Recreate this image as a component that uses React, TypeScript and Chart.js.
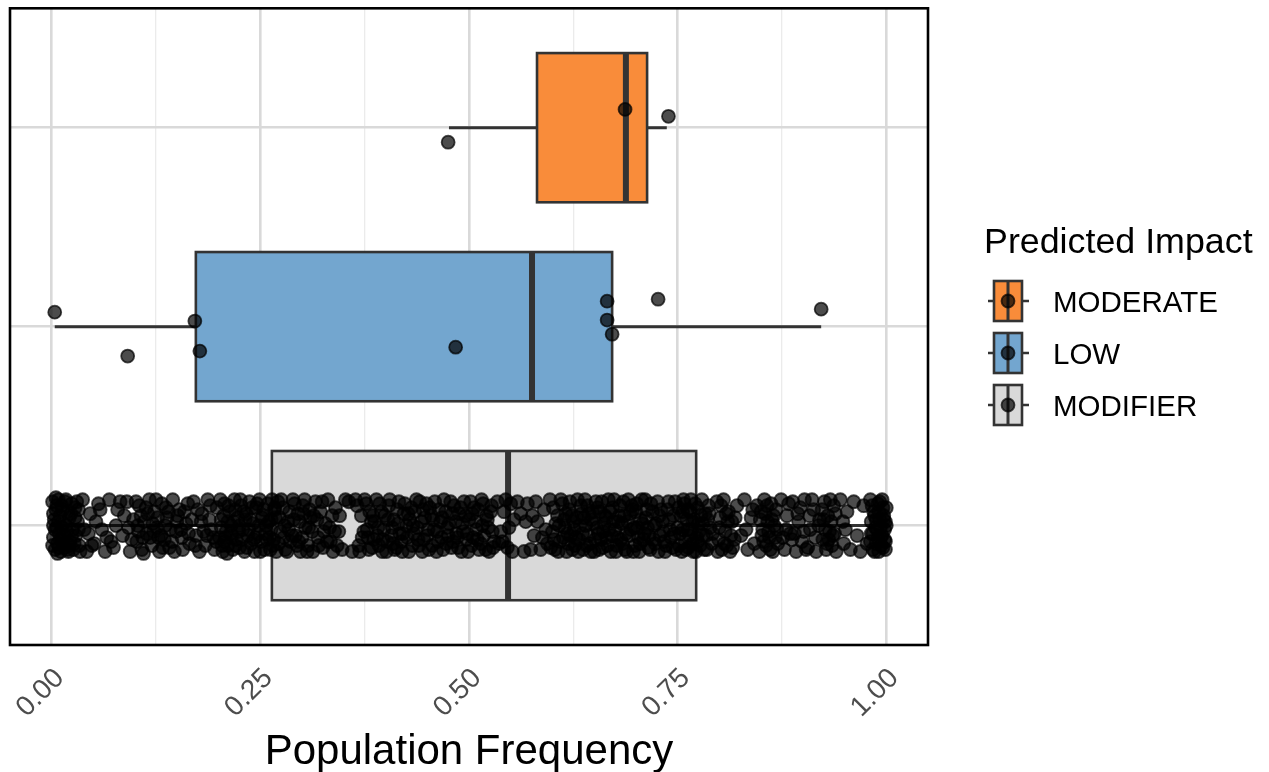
import React, { useEffect, useRef } from "react";
import { Chart, registerables } from "chart.js";

Chart.register(...registerables);

const FONT = "'Liberation Sans', Arial, Helvetica, sans-serif";

// Categories (top to bottom) and box fills
const categories = ["MODERATE", "LOW", "MODIFIER"];
const fillColors = ["#F98C3A", "#73A6CF", "#D9D9D9"];

// Box-plot statistics
const whiskerLow = [0.476, 0.0036, 0.0];
const q1 = [0.5815, 0.1727, 0.2638];
const medians = [0.688, 0.5755, 0.5468];
const q3 = [0.7134, 0.6715, 0.7722];
const whiskerHigh = [0.737, 0.922, 1.0];

// Axis ticks
const xGridTicks = [0, 0.125, 0.25, 0.375, 0.5, 0.625, 0.75, 0.875, 1];
const xMajorTicks = [0, 0.25, 0.5, 0.75, 1];

// Jittered points: [population frequency, vertical jitter]
const moderatePoints: [number, number][] = [
  [0.687, -0.092], [0.739, -0.057], [0.475, 0.073],
];

const lowPoints: [number, number][] = [
  [0.0036, -0.073], [0.091, 0.148], [0.1715, -0.028], [0.1775, 0.123], [0.484, 0.103],
  [0.6655, -0.128], [0.6655, -0.033], [0.6715, 0.038], [0.7266, -0.138], [0.922, -0.088],
];

const modifierPoints: [number, number][] = [
  [0.001, -0.12], [0.002, 0.06], [0.003, -0.03], [0.004, 0.12], [0.005, -0.08], [0.006, 0.01], [0.007, 0.09],
  [0.008, -0.13], [0.009, 0.04], [0.010, -0.05], [0.011, 0.13], [0.012, -0.10], [0.013, 0.07], [0.014, -0.01],
  [0.015, 0.11], [0.016, -0.12], [0.018, 0.03], [0.019, -0.07], [0.020, 0.13], [0.021, -0.04], [0.022, 0.08],
  [0.024, -0.11], [0.025, 0.02], [0.026, 0.12], [0.028, -0.09], [0.029, 0.05], [0.031, -0.02], [0.033, 0.10],
  [0.037, -0.13], [0.042, 0.13], [0.046, -0.06], [0.051, 0.09], [0.056, -0.11], [0.060, 0.02], [0.064, 0.13],
  [0.069, -0.13], [0.074, 0.11], [0.079, -0.08], [0.085, 0.05], [0.090, -0.12], [0.094, 0.13], [0.098, -0.03],
  [0.102, 0.08], [0.105, -0.10], [0.108, 0.12], [0.111, -0.02], [0.114, 0.04], [0.117, -0.13], [0.120, 0.10],
  [0.123, -0.07], [0.126, 0.01], [0.129, 0.13], [0.132, -0.11], [0.135, 0.07], [0.138, -0.04], [0.141, 0.11],
  [0.145, -0.13], [0.149, 0.03], [0.153, -0.08], [0.157, 0.12], [0.161, -0.01], [0.165, 0.09],
  [0.170, -0.12], [0.173, 0.05], [0.177, 0.13], [0.180, -0.06], [0.184, 0.10], [0.187, -0.13], [0.191, 0.02],
  [0.195, 0.12], [0.198, -0.09],
  [0.201, 0.06], [0.203, -0.03], [0.205, 0.13], [0.207, -0.11], [0.209, 0.03], [0.211, 0.10], [0.213, -0.07],
  [0.215, 0.00], [0.217, 0.12], [0.219, -0.13], [0.221, 0.07], [0.223, -0.04], [0.225, 0.11], [0.227, -0.10],
  [0.229, 0.02], [0.231, 0.13], [0.233, -0.06], [0.235, 0.05], [0.237, -0.12], [0.239, 0.09], [0.241, -0.01],
  [0.243, 0.13], [0.245, -0.09], [0.247, 0.04], [0.249, -0.13], [0.251, 0.08], [0.253, -0.05], [0.255, 0.12],
  [0.257, 0.00], [0.259, -0.11], [0.261, 0.06], [0.263, -0.03], [0.265, 0.10], [0.267, -0.08], [0.269, 0.13],
  [0.271, -0.12],
  [0.274, 0.03], [0.277, -0.09], [0.280, 0.12], [0.283, -0.02], [0.286, 0.08], [0.289, -0.13], [0.292, 0.05],
  [0.295, -0.06], [0.298, 0.13], [0.301, -0.10], [0.304, 0.01], [0.307, 0.10], [0.310, -0.04], [0.313, 0.13],
  [0.316, -0.12], [0.319, 0.06], [0.322, -0.07], [0.325, 0.11], [0.328, -0.01], [0.331, -0.13], [0.334, 0.08],
  [0.337, 0.13], [0.340, -0.09], [0.344, 0.03], [0.348, 0.12], [0.352, -0.13], [0.356, -0.12], [0.360, 0.13],
  [0.364, -0.13],
  [0.368, 0.10], [0.371, -0.05], [0.374, 0.03], [0.377, -0.11], [0.380, 0.12], [0.383, -0.02], [0.386, 0.07],
  [0.389, -0.13], [0.392, 0.10], [0.395, -0.07], [0.398, 0.02], [0.401, 0.13], [0.404, -0.10], [0.407, 0.05],
  [0.410, -0.03], [0.413, 0.11], [0.416, -0.12], [0.419, 0.08], [0.422, -0.06], [0.425, 0.00], [0.428, 0.13],
  [0.431, -0.09], [0.434, 0.04], [0.437, -0.13], [0.440, 0.10], [0.443, -0.02], [0.446, 0.07], [0.449, -0.11],
  [0.452, 0.12], [0.455, -0.05], [0.458, 0.02], [0.461, 0.13], [0.464, -0.08], [0.467, 0.06], [0.470, -0.13],
  [0.473, 0.09], [0.476, -0.01], [0.479, 0.11], [0.482, -0.10], [0.485, 0.04], [0.488, -0.06], [0.491, 0.13],
  [0.494, -0.12], [0.497, 0.07], [0.500, -0.03], [0.503, 0.10], [0.506, -0.09], [0.509, 0.02], [0.512, 0.12],
  [0.515, -0.13], [0.518, 0.05], [0.521, -0.05], [0.524, 0.13], [0.527, -0.10], [0.530, 0.08],
  [0.534, -0.12], [0.538, 0.03], [0.542, -0.07], [0.546, 0.11], [0.550, -0.11], [0.554, -0.03], [0.558, -0.12],
  [0.562, -0.06], [0.566, 0.13], [0.570, -0.11], [0.574, 0.12], [0.578, 0.05], [0.582, -0.02], [0.586, 0.12],
  [0.590, -0.08], [0.594, 0.09],
  [0.597, -0.13], [0.600, 0.03], [0.603, 0.12], [0.606, -0.05], [0.609, 0.08], [0.612, -0.11], [0.615, 0.01],
  [0.617, 0.13], [0.620, -0.08], [0.622, 0.05], [0.625, -0.02], [0.627, 0.10], [0.630, -0.13], [0.632, 0.07],
  [0.635, -0.06], [0.637, 0.12], [0.640, 0.00], [0.642, -0.10], [0.645, 0.09], [0.647, -0.03], [0.650, 0.13],
  [0.652, -0.12], [0.655, 0.04], [0.657, -0.07], [0.660, 0.11], [0.662, -0.01], [0.665, 0.06], [0.667, -0.13],
  [0.670, 0.13], [0.672, -0.09], [0.675, 0.02], [0.677, 0.10], [0.680, -0.05], [0.682, 0.07], [0.685, -0.12],
  [0.687, 0.12], [0.690, -0.02], [0.692, 0.05], [0.695, -0.10], [0.697, 0.13], [0.700, -0.07], [0.702, 0.01],
  [0.705, 0.09], [0.707, -0.13], [0.710, 0.04], [0.712, -0.04], [0.715, 0.11], [0.718, -0.11], [0.721, 0.07],
  [0.724, -0.01], [0.727, 0.13], [0.730, -0.08], [0.733, 0.03], [0.736, 0.10], [0.739, -0.12], [0.742, 0.06],
  [0.745, -0.05], [0.748, 0.12],
  [0.751, -0.09], [0.753, 0.04], [0.755, 0.13], [0.757, -0.13], [0.759, 0.08], [0.761, -0.03], [0.763, 0.11],
  [0.765, -0.07], [0.767, 0.02], [0.769, 0.13], [0.771, -0.11], [0.773, 0.06], [0.775, -0.01], [0.777, 0.10],
  [0.779, -0.13], [0.781, 0.05], [0.783, -0.06], [0.785, 0.12], [0.787, -0.10], [0.789, 0.01], [0.791, 0.09],
  [0.797, -0.12], [0.799, 0.07], [0.801, -0.04], [0.803, 0.12], [0.805, -0.13], [0.807, 0.03], [0.809, 0.10],
  [0.811, -0.07], [0.813, 0.13], [0.815, -0.02], [0.818, 0.07], [0.821, -0.10],
  [0.826, 0.05], [0.830, -0.13], [0.834, 0.12], [0.838, -0.04], [0.842, 0.09], [0.845, -0.10],
  [0.848, 0.13], [0.850, -0.07], [0.852, 0.02], [0.854, -0.13], [0.856, 0.10], [0.858, -0.02], [0.860, 0.06],
  [0.862, -0.11], [0.864, 0.13], [0.866, 0.00], [0.868, -0.08], [0.870, 0.09],
  [0.874, -0.13], [0.878, 0.12], [0.881, -0.05], [0.885, 0.04], [0.888, -0.12], [0.892, 0.13], [0.895, -0.02],
  [0.899, 0.08], [0.902, -0.13], [0.906, 0.11], [0.909, 0.02], [0.913, -0.08], [0.916, 0.13], [0.920, -0.03],
  [0.924, 0.07], [0.926, -0.12], [0.928, 0.12], [0.930, -0.05], [0.932, 0.03], [0.935, 0.10], [0.937, -0.10],
  [0.940, 0.13],
  [0.945, -0.13], [0.949, 0.09], [0.953, -0.07], [0.957, 0.12], [0.961, -0.12], [0.965, 0.05], [0.969, 0.13],
  [0.973, -0.10], [0.977, 0.09],
  [0.981, -0.13], [0.982, 0.04], [0.984, 0.12], [0.985, -0.07], [0.987, 0.01], [0.988, 0.09], [0.990, -0.11],
  [0.991, 0.13], [0.992, -0.03], [0.993, 0.06], [0.995, -0.13], [0.996, 0.11], [0.997, -0.05], [0.998, 0.02],
  [0.999, 0.12], [1.000, -0.09],
  // second pass through the denser stretches
  [0.001, 0.10], [0.002, -0.06], [0.004, 0.02], [0.005, -0.14], [0.007, 0.14], [0.008, -0.02], [0.010, 0.07],
  [0.012, 0.01], [0.013, -0.08], [0.015, 0.05], [0.017, -0.13], [0.019, 0.12], [0.023, -0.06], [0.027, 0.09],
  [0.030, -0.12], [0.032, 0.02],
  [0.044, 0.04], [0.053, -0.02], [0.066, 0.06], [0.077, 0.00], [0.087, -0.05], [0.096, 0.07],
  [0.101, -0.12], [0.104, 0.03], [0.107, -0.05], [0.110, 0.14], [0.113, -0.09], [0.118, 0.06], [0.121, -0.01],
  [0.125, -0.13], [0.128, 0.06], [0.133, 0.11], [0.137, -0.09], [0.142, 0.02], [0.147, 0.13], [0.151, -0.05],
  [0.156, 0.06], [0.163, -0.11],
  [0.172, 0.10], [0.179, -0.02], [0.186, 0.05], [0.190, -0.10], [0.197, 0.08],
  [0.202, -0.13], [0.204, 0.10], [0.206, -0.05], [0.208, 0.06], [0.210, 0.14], [0.212, -0.10], [0.214, 0.04],
  [0.218, -0.02], [0.220, 0.10], [0.224, 0.03], [0.226, -0.13], [0.230, -0.07], [0.234, 0.11], [0.238, -0.03],
  [0.242, 0.07], [0.246, -0.11], [0.250, 0.13], [0.254, -0.08], [0.256, 0.04], [0.260, -0.02], [0.262, 0.12],
  [0.264, -0.13], [0.266, 0.07], [0.268, -0.04],
  [0.272, 0.09], [0.275, -0.13], [0.279, 0.00], [0.282, 0.13], [0.285, -0.07], [0.288, 0.05], [0.291, -0.11],
  [0.294, 0.10], [0.297, -0.02], [0.300, 0.06], [0.303, -0.13], [0.306, 0.13], [0.309, -0.08], [0.312, 0.03],
  [0.318, -0.03], [0.324, -0.12], [0.333, 0.01], [0.342, 0.10],
  [0.366, -0.10], [0.369, 0.13], [0.372, 0.06], [0.375, -0.13], [0.378, 0.02], [0.381, -0.07], [0.384, 0.11],
  [0.387, -0.02], [0.390, 0.05], [0.393, -0.11], [0.396, 0.13], [0.399, -0.05], [0.402, 0.08], [0.405, -0.13],
  [0.408, 0.01], [0.411, 0.12], [0.414, -0.08], [0.417, 0.04], [0.420, 0.13], [0.423, -0.11], [0.426, 0.06],
  [0.429, -0.03], [0.432, 0.10], [0.435, -0.07], [0.438, 0.01], [0.441, -0.12], [0.444, 0.13], [0.447, -0.04],
  [0.450, 0.05], [0.453, -0.09], [0.456, 0.10], [0.459, -0.12], [0.462, 0.03], [0.466, -0.02], [0.469, 0.12],
  [0.472, -0.07], [0.475, 0.05], [0.478, -0.12], [0.481, 0.08], [0.484, -0.02], [0.487, 0.11], [0.490, -0.09],
  [0.493, 0.03], [0.496, -0.05], [0.499, 0.13], [0.502, -0.12], [0.505, 0.06], [0.508, -0.02], [0.511, -0.08],
  [0.514, 0.09], [0.517, -0.11], [0.520, 0.12], [0.523, 0.01], [0.526, -0.07], [0.529, 0.11],
  [0.536, 0.09], [0.544, -0.13], [0.552, 0.13], [0.568, -0.02], [0.580, -0.12], [0.592, 0.02],
  [0.598, 0.11], [0.601, -0.09], [0.604, -0.01], [0.607, 0.13], [0.610, -0.13], [0.613, 0.06], [0.616, -0.06],
  [0.619, 0.09], [0.621, -0.12], [0.624, 0.12], [0.626, 0.02], [0.629, -0.04], [0.631, 0.13], [0.634, -0.10],
  [0.636, 0.04], [0.639, -0.13], [0.641, 0.10], [0.644, -0.06], [0.646, 0.13], [0.649, -0.01], [0.651, 0.07],
  [0.654, -0.09], [0.656, 0.12], [0.659, -0.12], [0.661, 0.03], [0.664, -0.04], [0.666, 0.10], [0.669, -0.07],
  [0.671, 0.05], [0.674, -0.13], [0.676, 0.13], [0.679, -0.02], [0.681, -0.10], [0.684, 0.09], [0.686, -0.05],
  [0.689, 0.13], [0.691, -0.13], [0.694, 0.02], [0.696, -0.08], [0.699, 0.10], [0.701, -0.11], [0.704, 0.13],
  [0.706, -0.03], [0.709, 0.07], [0.711, -0.13], [0.714, 0.01], [0.717, 0.12], [0.720, -0.07], [0.723, 0.09],
  [0.726, -0.12], [0.729, 0.05], [0.732, -0.02], [0.735, 0.13], [0.738, -0.08], [0.741, 0.02], [0.744, 0.11],
  [0.747, -0.12],
  [0.752, 0.10], [0.754, -0.05], [0.756, 0.02], [0.758, -0.11], [0.760, 0.12], [0.762, -0.08], [0.764, 0.05],
  [0.766, -0.13], [0.768, 0.09], [0.770, -0.03], [0.772, 0.13], [0.774, -0.09], [0.776, 0.03], [0.778, -0.05],
  [0.782, 0.12], [0.786, -0.03],
  [0.798, 0.13], [0.802, -0.10], [0.806, 0.09], [0.810, -0.02], [0.816, 0.11],
  [0.849, -0.03], [0.853, 0.08], [0.857, -0.10], [0.861, 0.12], [0.865, -0.05], [0.869, 0.02],
  [0.876, 0.06], [0.883, -0.11], [0.890, 0.04], [0.897, -0.09], [0.904, 0.12], [0.911, -0.13],
  [0.925, -0.03], [0.929, 0.09], [0.933, -0.13], [0.936, 0.05], [0.939, -0.06],
  [0.981, 0.08], [0.983, -0.10], [0.986, 0.13], [0.988, -0.03], [0.990, 0.06], [0.992, -0.12], [0.994, 0.10],
  [0.996, -0.09], [0.998, 0.07], [0.999, -0.02],
  // third pass, mostly near the centre line
  [0.002, 0.00], [0.006, -0.10], [0.009, 0.11], [0.014, 0.09], [0.017, 0.00], [0.021, 0.10], [0.024, 0.05],
  [0.028, -0.04], [0.032, -0.08], [0.034, 0.13],
  [0.039, 0.02], [0.048, 0.10], [0.058, -0.08], [0.071, 0.08], [0.082, -0.12], [0.092, 0.01],
  [0.103, 0.00], [0.109, 0.06], [0.115, -0.06], [0.122, 0.03], [0.127, -0.04], [0.131, 0.05], [0.136, 0.00],
  [0.140, -0.07], [0.144, 0.08], [0.150, -0.02], [0.155, 0.02], [0.159, -0.07], [0.164, 0.04], [0.168, -0.03],
  [0.175, -0.08], [0.182, 0.03], [0.189, -0.03], [0.194, 0.06],
  [0.203, 0.01], [0.207, 0.08], [0.211, -0.02], [0.216, 0.05], [0.220, -0.08], [0.225, 0.00], [0.228, 0.07],
  [0.232, -0.03], [0.236, 0.02], [0.240, -0.09], [0.244, 0.06], [0.248, 0.00], [0.252, -0.04], [0.258, 0.07],
  [0.263, 0.02], [0.267, -0.09],
  [0.273, -0.04], [0.278, 0.06], [0.284, 0.02], [0.290, -0.03], [0.296, 0.08], [0.302, -0.06], [0.308, 0.01],
  [0.314, -0.05], [0.320, 0.10], [0.326, 0.03], [0.330, 0.08], [0.336, -0.05], [0.339, 0.03], [0.345, -0.05],
  [0.379, 0.06], [0.385, -0.05], [0.391, 0.01], [0.397, 0.07], [0.403, -0.03], [0.409, 0.09], [0.415, -0.01],
  [0.421, 0.04], [0.427, -0.06], [0.433, 0.00], [0.439, 0.07], [0.445, -0.08], [0.451, 0.02], [0.457, -0.03],
  [0.463, 0.08], [0.468, -0.04], [0.474, 0.01], [0.480, -0.06], [0.486, 0.06], [0.492, -0.01], [0.498, 0.04],
  [0.504, -0.06], [0.510, 0.07], [0.516, 0.00], [0.522, -0.03], [0.528, 0.03],
  [0.540, 0.08], [0.548, 0.01], [0.576, -0.05], [0.588, 0.06],
  [0.602, 0.07], [0.608, 0.00], [0.614, -0.03], [0.618, 0.04], [0.623, -0.05], [0.628, 0.06], [0.633, 0.00],
  [0.638, -0.04], [0.643, 0.05], [0.648, -0.07], [0.653, 0.01], [0.658, 0.07], [0.663, -0.05], [0.668, 0.02],
  [0.673, -0.02], [0.678, 0.06], [0.683, -0.01], [0.688, 0.04], [0.693, -0.06], [0.698, 0.01], [0.703, 0.06],
  [0.708, -0.01], [0.713, -0.08], [0.716, 0.05], [0.722, 0.00], [0.728, -0.05], [0.734, 0.08], [0.740, -0.03],
  [0.746, 0.04],
  [0.750, 0.01], [0.756, -0.07], [0.762, 0.02], [0.768, -0.02], [0.774, 0.08], [0.780, -0.01], [0.784, 0.05],
  [0.788, -0.06], [0.792, 0.04],
  [0.800, 0.01], [0.808, -0.06], [0.814, 0.05], [0.819, -0.04], [0.832, 0.02], [0.840, -0.08],
  [0.851, 0.05], [0.855, -0.06], [0.859, 0.03], [0.863, -0.03], [0.867, 0.06],
  [0.880, 0.02], [0.887, 0.07], [0.894, -0.06], [0.901, 0.03], [0.908, -0.05], [0.915, 0.06], [0.919, 0.00],
  [0.923, -0.08], [0.927, 0.02], [0.931, 0.07], [0.934, -0.02], [0.938, 0.04], [0.948, -0.02], [0.951, 0.02],
  [0.982, -0.02], [0.984, 0.04], [0.986, -0.05], [0.989, 0.02], [0.991, -0.07], [0.993, 0.01], [0.995, 0.05],
  [0.997, -0.03], [0.999, 0.08], [1.000, 0.00],
];

const pointSets = [moderatePoints, lowPoints, modifierPoints];

const isMajor = (v: number) => xMajorTicks.some((m) => Math.abs(m - v) < 1e-9);

const boxPlugin = {
  id: "boxes",
  beforeDatasetsDraw(chart: any) {
    const { ctx, scales } = chart;
    const x = scales.x;
    const y = scales.y;
    ctx.save();
    categories.forEach((_c, i) => {
      const pos = i + 1;
      const yc = y.getPixelForValue(pos);
      const ya = y.getPixelForValue(pos - 0.375);
      const yb = y.getPixelForValue(pos + 0.375);
      const top = Math.min(ya, yb);
      const h = Math.abs(yb - ya);
      const x1 = x.getPixelForValue(q1[i]);
      const x3 = x.getPixelForValue(q3[i]);
      ctx.strokeStyle = "#333333";
      ctx.lineCap = "butt";
      ctx.lineWidth = 3;
      ctx.beginPath();
      ctx.moveTo(x.getPixelForValue(whiskerLow[i]), yc);
      ctx.lineTo(x1, yc);
      ctx.moveTo(x3, yc);
      ctx.lineTo(x.getPixelForValue(whiskerHigh[i]), yc);
      ctx.stroke();
      ctx.fillStyle = fillColors[i];
      ctx.fillRect(x1, top, x3 - x1, h);
      ctx.lineWidth = 2.6;
      ctx.strokeRect(x1, top, x3 - x1, h);
      const xm = x.getPixelForValue(medians[i]);
      ctx.lineWidth = 6;
      ctx.beginPath();
      ctx.moveTo(xm, top);
      ctx.lineTo(xm, top + h);
      ctx.stroke();
    });
    ctx.restore();
  },
  afterDatasetsDraw(chart: any) {
    const { ctx, chartArea } = chart;
    ctx.save();
    ctx.strokeStyle = "#000000";
    ctx.lineWidth = 2.6;
    ctx.strokeRect(chartArea.left, chartArea.top, chartArea.right - chartArea.left, chartArea.bottom - chartArea.top);
    ctx.restore();
  },
  afterDraw(chart: any) {
    const { ctx } = chart;
    ctx.save();
    ctx.fillStyle = "#000000";
    ctx.textBaseline = "alphabetic";
    ctx.textAlign = "left";
    ctx.font = `35.8px ${FONT}`;
    ctx.fillText("Predicted Impact", 984, 253);
    categories.forEach((label, i) => {
      const top = 281 + 52 * i;
      const hgt = 40;
      const cy = top + hgt / 2;
      const left = 994;
      const w = 28;
      const cx = left + w / 2;
      ctx.strokeStyle = "#333333";
      ctx.lineWidth = 2.6;
      ctx.beginPath();
      ctx.moveTo(988, cy);
      ctx.lineTo(1029, cy);
      ctx.stroke();
      ctx.fillStyle = fillColors[i];
      ctx.fillRect(left, top, w, hgt);
      ctx.strokeRect(left, top, w, hgt);
      ctx.lineWidth = 3;
      ctx.beginPath();
      ctx.moveTo(cx, top);
      ctx.lineTo(cx, top + hgt);
      ctx.stroke();
      ctx.fillStyle = "rgba(0,0,0,0.7)";
      ctx.strokeStyle = "rgba(0,0,0,0.7)";
      ctx.lineWidth = 1.8;
      ctx.beginPath();
      ctx.arc(cx, cy, 6.5, 0, Math.PI * 2);
      ctx.fill();
      ctx.stroke();
      ctx.fillStyle = "#000000";
      ctx.font = `29.5px ${FONT}`;
      ctx.fillText(label, 1053, top + 31);
    });
    ctx.restore();
  },
};

export default function App() {
  const ref = useRef<HTMLCanvasElement>(null);
  useEffect(() => {
    if (!ref.current) return;
    const chart = new Chart(ref.current, {
      type: "scatter",
      data: {
        datasets: pointSets.map((pts, i) => ({
          label: categories[i],
          data: pts.map(([v, j]) => ({ x: v, y: i + 1 + j })),
          backgroundColor: "rgba(0,0,0,0.7)",
          borderColor: "rgba(0,0,0,0.7)",
          borderWidth: 1.8,
          pointRadius: 6.5,
          pointHoverRadius: 6.5,
        })),
      },
      options: {
        animation: false,
        responsive: false,
        devicePixelRatio: 1,
        layout: { padding: { left: 10, top: 8, right: 341, bottom: 0 } },
        plugins: { legend: { display: false }, tooltip: { enabled: false } },
        scales: {
          x: {
            type: "linear",
            min: -0.05,
            max: 1.05,
            afterBuildTicks: (s: any) => {
              s.ticks = xGridTicks.map((v) => ({ value: v }));
            },
            afterFit: (s: any) => {
              s.height = 127;
              s.paddingLeft = 0;
              s.paddingRight = 0;
            },
            ticks: {
              autoSkip: false,
              minRotation: 45,
              maxRotation: 45,
              padding: 17,
              labelOffset: 8,
              color: "#4D4D4D",
              font: { family: FONT, size: 28 },
              callback: (v: any) => (isMajor(Number(v)) ? Number(v).toFixed(2) : ""),
            },
            grid: {
              drawTicks: false,
              color: (c: any) => (c.tick && isMajor(c.tick.value) ? "#D9D9D9" : "#EBEBEB"),
              lineWidth: (c: any) => (c.tick && isMajor(c.tick.value) ? 2.6 : 1.3),
            },
            border: { display: false },
            title: {
              display: true,
              text: "Population Frequency",
              color: "#000000",
              font: { family: FONT, size: 42 },
              padding: { top: 0, bottom: -6 },
            },
          },
          y: {
            type: "linear",
            min: 0.4,
            max: 3.6,
            reverse: true,
            afterBuildTicks: (s: any) => {
              s.ticks = [{ value: 1 }, { value: 2 }, { value: 3 }];
            },
            afterFit: (s: any) => {
              s.width = 0;
            },
            ticks: { display: false },
            grid: { drawTicks: false, color: "#D9D9D9", lineWidth: 2.6 },
            border: { display: false },
          },
        },
      },
      plugins: [boxPlugin],
    } as any);
    return () => chart.destroy();
  }, []);
  return (
    <div style={{ position: "fixed", left: 0, top: 0, width: 1269, height: 772, background: "#ffffff" }}>
      <canvas ref={ref} width={1269} height={772} style={{ display: "block" }} />
    </div>
  );
}
